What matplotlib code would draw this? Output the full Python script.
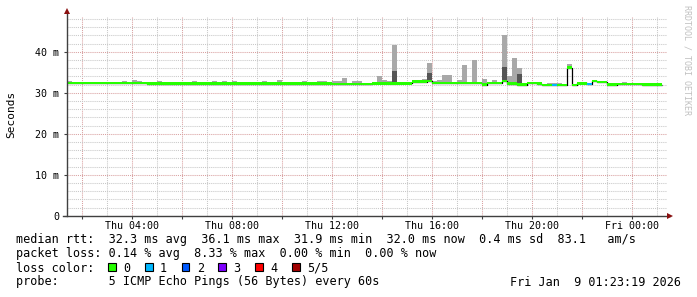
import matplotlib
matplotlib.use('Agg')
import matplotlib.pyplot as plt
import matplotlib.dates as mdates
from matplotlib.patches import Rectangle
from matplotlib.ticker import FixedLocator, FuncFormatter
from datetime import datetime, timedelta

plt.rcParams['font.family'] = ['DejaVu Sans Mono', 'DejaVu Sans']

# ---------------- data (12-minute steps starting Thu 01:24) ----------------
start_time = datetime(2026, 1, 8, 1, 24)
step_minutes = 12

median_ms = ([32.4] * 16 + [32.2] * 37 + [32.1] * 8 + [32.3] * 8 + [32.7] * 3 + [32.9]
             + [32.4] * 10 + [32.0] + [32.4] * 3 + [32.9] + [32.2] * 2 + [32.0] * 2
             + [32.4] * 2 + [32.2] + [31.9] * 5 + [36.1] + [31.9] + [32.3] * 2 + [32.1]
             + [32.9] + [32.6] * 2 + [32.0] * 2 + [32.1] * 5 + [32.0] * 4)

smoke_max_ms = [
    32.9, 32.6, 32.6, 32.6, 32.6, 32.6, 32.6, 32.6, 32.6, 32.6,
    32.6, 32.9, 32.6, 33.1, 32.9, 32.6, 32.4, 32.4, 32.9, 32.4,
    32.4, 32.4, 32.4, 32.4, 32.4, 32.9, 32.4, 32.4, 32.4, 32.9,
    32.4, 32.9, 32.4, 32.9, 32.4, 32.4, 32.4, 32.4, 32.4, 32.9,
    32.4, 32.4, 33.1, 32.4, 32.4, 32.4, 32.4, 32.9, 32.4, 32.4,
    32.9, 32.9, 32.4, 32.9, 32.9, 33.7, 32.3, 32.8, 32.8, 32.3,
    32.3, 32.5, 34.1, 33.1, 32.9, 41.7, 32.5, 32.5, 32.5, 33.0,
    33.1, 33.3, 37.3, 32.8, 33.1, 34.4, 34.4, 32.6, 33.1, 36.8,
    32.6, 38.0, 32.6, 33.3, 32.6, 33.1, 32.6, 44.0, 34.1, 38.5,
    36.0, 32.2, 32.6, 32.6, 32.4, 32.1, 32.3, 32.3, 32.3, 32.1,
    37.0, 32.1, 32.5, 32.5, 32.3, 33.1, 32.8, 32.8, 32.2, 32.2,
    32.2, 32.7, 32.3, 32.3, 32.3, 32.2, 32.2, 32.45, 32.45,
]

dark_steps = [65, 72, 87, 90]
dark_top_ms = [35.3, 34.9, 36.3, 34.6]

loss_count = [0] * 97 + [1] + [0] * 6 + [1] + [0] * 14

loss_labels = ['0', '1', '2', '3', '4', '5/5']
loss_colors = ['#26ff00', '#00b8ff', '#0059ff', '#7e00ff', '#ff0000', '#a00000']

y_ticks = [0, 10, 20, 30, 40]
y_tick_labels = ['0', '10 m', '20 m', '30 m', '40 m']

legend_lines = [
    'median rtt:  32.3 ms avg  36.1 ms max  31.9 ms min  32.0 ms now  0.4 ms sd  83.1   am/s',
    'packet loss: 0.14 % avg  8.33 % max  0.00 % min  0.00 % now',
    'loss color:',
    'probe:       5 ICMP Echo Pings (56 Bytes) every 60s',
]
stamp_text = 'Fri Jan  9 01:23:19 2026'

# ---------------- figure ----------------
W, H = 697, 297
fig = plt.figure(figsize=(W / 100, H / 100), dpi=100)
fig.patch.set_facecolor('white')


def fx(x):
    return x / W


def fy(y):
    return 1 - y / H


ax = fig.add_axes([fx(66.7), fy(215.7), 600 / W, 200 / H])
ax.set_facecolor('white')

n = len(median_ms)
times = [start_time + timedelta(minutes=step_minutes * i) for i in range(n)]
tnum = mdates.date2num(times)
w = step_minutes / 1440.0

# smoke
ax.bar(tnum, [mx - md for mx, md in zip(smoke_max_ms, median_ms)], bottom=median_ms,
       width=w, align='edge', color='#a8a8a8', linewidth=0, zorder=2)
ax.bar([tnum[i] for i in dark_steps],
       [t - median_ms[i] for i, t in zip(dark_steps, dark_top_ms)],
       bottom=[median_ms[i] for i in dark_steps],
       width=w, align='edge', color='#555555', linewidth=0, zorder=3)

# black median step line
edges = list(tnum) + [tnum[-1] + w]
ax.step(edges, list(median_ms) + [median_ms[-1]], where='post', color='#000000',
        lw=0.9, zorder=4, solid_capstyle='butt')

# colored median band
hw = 0.33
ax.bar(tnum, [2 * hw] * n, bottom=[m - hw for m in median_ms], width=w, align='edge',
       color=[loss_colors[c] for c in loss_count], linewidth=0, zorder=5)

# axes limits
t0 = mdates.date2num(start_time)
t1 = mdates.date2num(start_time + timedelta(hours=24))
ax.set_xlim(t0, t1)
ax.set_ylim(0, 48.8)

# grid / ticks
hour_ticks = []
t = datetime(2026, 1, 8, 2, 0)
while t < start_time + timedelta(hours=24):
    hour_ticks.append(t)
    t += timedelta(hours=1)
major_x = [mdates.date2num(h) for h in hour_ticks if h.hour % 2 == 0]
minor_x = [mdates.date2num(h) for h in hour_ticks if h.hour % 2 == 1]
ax.xaxis.set_major_locator(FixedLocator(major_x))
ax.xaxis.set_minor_locator(FixedLocator(minor_x))


def xfmt(x, pos):
    d = mdates.num2date(x + 1e-6)
    if d.hour % 4 == 0:
        return d.strftime('%a %H:%M')
    return ''


ax.xaxis.set_major_formatter(FuncFormatter(xfmt))
ax.set_yticks(y_ticks)
ax.set_yticklabels(y_tick_labels)
ax.set_yticks([v for v in range(2, 49, 2) if v % 10 != 0], minor=True)

grid_kw = dict(linestyle=(0, (1, 1)), linewidth=0.75)
ax.grid(True, which='minor', axis='both', color='#c8c8c8', zorder=0, **grid_kw)
ax.grid(True, which='major', axis='both', color='#d9a0a0', zorder=0, **grid_kw)
ax.set_axisbelow(True)

ax.tick_params(which='major', length=2, width=0.8, color='#404040', labelsize=7.2,
               labelcolor='#000000')
ax.tick_params(which='minor', length=0)
ax.tick_params(axis='x', which='major', pad=2)
ax.tick_params(axis='y', which='major', pad=3.2)

for s in ax.spines.values():
    s.set_visible(False)

# axis lines with arrows
axis_col = '#404040'
arrow_col = '#8b1010'
ax.plot([0, 0], [0, 1.02], transform=ax.transAxes, color=axis_col, lw=1.0,
        clip_on=False, zorder=6)
ax.plot([-0.007, 1.006], [0, 0], transform=ax.transAxes, color=axis_col, lw=1.0,
        clip_on=False, zorder=6)
ax.plot([0], [1.025], marker='^', markersize=4, color=arrow_col,
        transform=ax.transAxes, clip_on=False, zorder=7, markeredgewidth=0)
ax.plot([1.006], [0], marker='>', markersize=4, color=arrow_col,
        transform=ax.transAxes, clip_on=False, zorder=7, markeredgewidth=0)

# y label
fig.text(fx(11.3), fy(114), 'Seconds', rotation=90, ha='center', va='center',
         fontsize=8, color='#000000')

# watermark
fig.text(fx(687.5), fy(60), 'RRDTOOL / TOBI OETIKER', rotation=270, ha='center',
         va='center', fontsize=6, color='#c0c0c0')

# legend text
line_y = [240, 254, 268, 282]
for txt, yy in zip(legend_lines, line_y):
    fig.text(fx(16), fy(yy), txt, ha='left', va='center', fontsize=8.5, color='#000000')
fig.text(fx(681), fy(282), stamp_text, ha='right', va='center', fontsize=8.5,
         color='#000000')

for k, (lab, col) in enumerate(zip(loss_labels, loss_colors)):
    bx = 108.3 + 36.7 * k
    fig.add_artist(Rectangle((fx(bx), fy(270.8)), 7.7 / W, 7.6 / H,
                             transform=fig.transFigure, facecolor=col,
                             edgecolor='#000000', linewidth=0.8))
    fig.text(fx(bx + 15), fy(268), lab, ha='left', va='center', fontsize=8.5,
             color='#000000')

fig.savefig('out.png', dpi=100, facecolor='white')
